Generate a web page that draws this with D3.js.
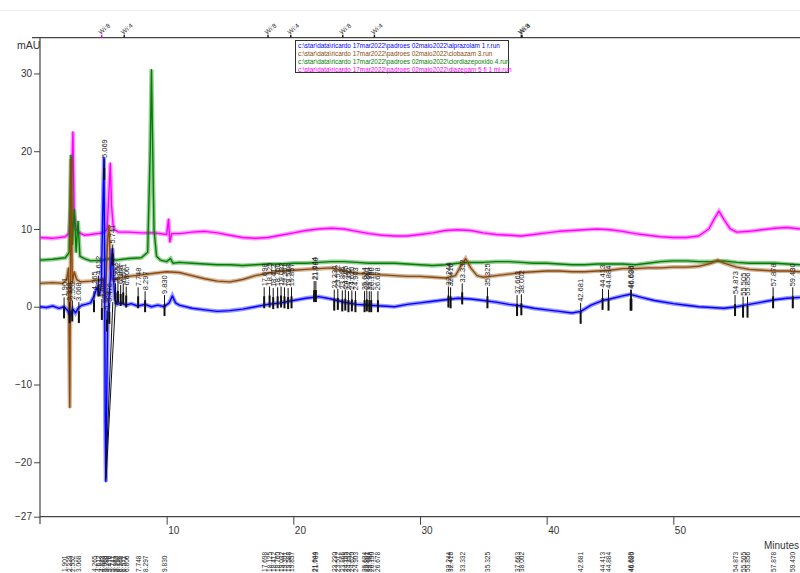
<!DOCTYPE html>
<html>
<head>
<meta charset="utf-8">
<script src="https://cdn.jsdelivr.net/npm/d3@7"></script>
<style>
  body { margin: 0; background: #fff; }
  svg { font-family: "Liberation Sans", Arial, sans-serif; }
</style>
</head>
<body>
<div id="chart"></div>
<script>
  var width = 800;
  var height = 573;

  // traces, [minutes, mAU]
  var alprazolam = [[0,0],[0.5,-0.1],[1,0.1],[1.5,-0.2],[1.9,0],[2.2,-0.5],[2.4,-1.2],[2.6,-0.3],[2.8,-0.8],[3.0,-0.2],[3.3,0.2],[3.6,0.3],[4.0,0.5],[4.3,1.5],[4.5,2.5],[4.7,1.5],[4.85,3],[4.95,12],[5.05,19.2],[5.1,5],[5.15,-15],[5.2,-22.5],[5.28,-10],[5.35,-1],[5.45,1],[5.6,5],[5.72,7.5],[5.8,4],[5.9,1],[6.1,0.3],[6.4,0.5],[6.8,0.2],[7.2,0.4],[7.7,0.1],[8.3,0.3],[8.8,0],[9.3,0.2],[9.8,0],[10.2,0.5],[10.45,1.4],[10.7,0.5],[11,0.2],[12,-0.2],[13,-0.4],[14,-0.6],[15,-0.5],[16,-0.3],[17,0],[18,0.3],[19,0.5],[20,0.8],[21,1.1],[22,1.3],[23,1.0],[24,0.6],[25,0.3],[26,0.2],[27,0.1],[28,0],[29,0.3],[30,0.5],[31,0.7],[32,0.9],[33,1.1],[34,1.0],[35,0.8],[36,0.6],[37,0.3],[38,0.1],[39,-0.2],[40,-0.4],[41,-0.6],[42,-0.8],[42.7,-0.6],[43.5,0.2],[44.4,0.8],[45,1.0],[46,1.4],[46.6,1.6],[47.5,1.2],[48.5,0.8],[50,0.4],[51,0.2],[52,0],[53,-0.1],[54,-0.2],[55,0],[56,0.3],[57,0.6],[58,0.9],[59,1.1],[60,1.2]];
  var clobazam = [[0,3],[1,3.1],[1.8,3.0],[2.1,3.5],[2.25,5],[2.35,-13],[2.45,19],[2.55,3],[2.7,4.5],[2.9,3.5],[3.2,3.2],[4,3.3],[4.8,3.5],[5.0,3.6],[5.1,0.5],[5.2,3],[5.35,9],[5.45,10.5],[5.55,5],[5.7,3.5],[6,3.6],[7,3.9],[8,4.1],[9,4.3],[10,4.5],[11,4.4],[12,4.0],[13,3.6],[14,3.3],[15,3.2],[16,3.5],[17,4.0],[18,4.3],[19,4.6],[20,4.7],[21,4.8],[22,4.9],[23,5.0],[24,4.6],[25,4.3],[26,4.2],[27,4.1],[28,4.0],[29,3.9],[30,3.9],[31,3.8],[32,3.7],[32.8,4.0],[33.3,5.5],[33.6,6.2],[34,5.0],[34.5,4.0],[35,3.8],[36,4.0],[37,4.2],[38,4.4],[39,4.5],[40,4.6],[41,4.6],[42,4.5],[43,4.5],[44,4.6],[45,4.7],[46,4.9],[47,4.9],[48,5.0],[49,5.0],[50,5.1],[51,5.1],[52,5.2],[53,5.6],[53.5,6.0],[54,5.6],[55,5.1],[56,4.8],[57,4.7],[58,4.6],[59,4.6],[60,4.5]];
  var clordiazepoxido = [[0,6],[1,6.1],[2,6.3],[2.3,7],[2.45,19.5],[2.55,8],[2.7,12.5],[2.85,7],[3.0,11],[3.15,6.5],[3.5,6.2],[4,5.9],[5,6],[5.5,6.2],[6,6.0],[7,6.2],[8,6.3],[8.5,7],[8.7,20],[8.8,30.5],[8.9,20],[9.0,10],[9.2,6.5],[9.5,6.0],[10,5.8],[10.3,6.2],[10.5,5.6],[11,5.7],[12,5.6],[13,5.5],[14,5.4],[15,5.4],[16,5.3],[17,5.4],[18,5.5],[19,5.5],[20,5.6],[21,5.6],[22,5.7],[23,5.8],[24,5.8],[25,5.7],[26,5.6],[27,5.6],[28,5.6],[29,5.5],[30,5.4],[31,5.3],[32,5.4],[33,5.6],[34,5.7],[35,5.7],[36,5.8],[37,5.8],[38,5.7],[39,5.6],[40,5.6],[41,5.5],[42,5.4],[43,5.4],[44,5.5],[45,5.5],[46,5.5],[47,5.4],[48,5.6],[49,5.8],[50,5.9],[51,5.9],[52,5.8],[53,5.8],[54,5.9],[55,5.7],[56,5.6],[57,5.6],[58,5.6],[59,5.5],[60,5.4]];
  var diazepam = [[0,8.9],[1,8.8],[2,9.0],[2.3,9.5],[2.45,13],[2.6,22.5],[2.7,12],[2.85,10],[3,9.6],[3.5,9.2],[4,9.3],[5,9.5],[5.3,10],[5.45,15],[5.55,18.5],[5.65,13],[5.8,10],[6.2,9.6],[7,9.6],[8,9.5],[9,9.5],[10,9.3],[10.15,11.3],[10.25,8.3],[10.4,9.4],[11,9.4],[12,9.6],[13,9.7],[14,9.5],[15,9.2],[16,8.9],[17,8.8],[18,8.9],[19,9.2],[20,9.5],[21,9.8],[22,10.0],[23,10.1],[24,10.0],[25,9.7],[26,9.4],[27,9.2],[28,9.1],[29,9.1],[30,9.3],[31,9.5],[32,9.8],[33,9.9],[34,9.8],[35,9.5],[36,9.3],[37,9.2],[38,9.1],[39,9.3],[40,9.5],[41,9.7],[42,9.8],[43,9.9],[44,10.0],[45,9.9],[46,9.7],[47,9.4],[48,9.2],[49,9.0],[50,8.9],[51,8.9],[52,9.1],[52.8,10],[53.3,11.5],[53.6,12.3],[54,11.2],[54.5,10],[55,9.6],[56,9.7],[57,9.9],[58,10.1],[59,10.2],[60,10.0]];

  var traceNames = ["c:\\star\\data\\ricardo 17mar2022\\padroes 02maio2022\\alprazolam 1 r.run",
                    "c:\\star\\data\\ricardo 17mar2022\\padroes 02maio2022\\clobazam 3.run",
                    "c:\\star\\data\\ricardo 17mar2022\\padroes 02maio2022\\clordiazepoxido 4.run",
                    "c:\\star\\data\\ricardo 17mar2022\\padroes 02maio2022\\diazepam 5 fl 1 ml.run"];
  var traceColors = ["#0000ff", "#8b4a0c", "#008000", "#ff00ff"];

  // integrated peaks (retention time, apex height in mAU)
  var peakTimes = [1.901,2.339,2.552,3.068,4.265,4.612,4.883,5.069,5.288,5.476,5.741,5.962,6.152,6.368,6.571,6.806,7.748,8.297,9.830,
                   17.698,18.125,18.412,18.760,19.032,19.301,19.588,19.857,21.644,21.780,23.230,23.512,23.866,24.105,24.352,24.620,24.903,
                   25.624,25.801,25.998,26.150,26.678,32.244,32.416,33.332,35.325,37.663,38.002,42.681,44.413,44.884,46.628,46.690,
                   54.873,55.505,55.856,57.878,59.430];
  var peakHeights = [1.2,0.6,0.8,0.6,2.0,4.0,1.0,19.0,-0.5,0.5,8.0,3.0,3.2,2.8,3.0,2.6,2.5,2.0,1.5,
                     2.5,2.6,2.4,2.5,2.6,2.5,2.4,2.5,3.3,3.3,2.2,2.3,2.1,2.2,2.0,2.1,2.0,
                     2.0,2.1,2.0,2.0,2.0,2.6,2.5,3.0,2.5,1.5,1.6,0.5,2.3,2.2,2.2,2.2,
                     1.5,1.3,1.3,2.5,2.5];

  // integration baselines drawn under the big negative peak
  var baselines = [[[5.18,-22.3],[5.75,0.6]], [[5.22,-22.0],[5.95,0.4]]];

  // window events on the top axis
  var eventTimes = [4.87, 6.65, 18.0, 19.8, 23.9, 26.4, 38.0, 38.05];
  var eventLabels = ["Wi:8", "Wi:4", "Wi:8", "Wi:4", "Wi:8", "Wi:4", "Wi:8", "Wi:4"];

  var yTicks = [30, 20, 10, 0, -10, -20, -27];
  var xTicks = [10, 20, 30, 40, 50];

  var x = d3.scaleLinear().domain([0, 60]).range([40, 800]);
  var y = d3.scaleLinear().domain([-27, 34.6]).range([516.7, 37.7]);

  var svg = d3.select("#chart").append("svg")
              .attr("width", width).attr("height", height);

  // faint frame line at the top
  svg.append("line").attr("x1", 0).attr("x2", width).attr("y1", 10.5).attr("y2", 10.5)
     .attr("stroke", "#eeeeee");

  var axisColor = "#444";

  // axis lines
  svg.append("line").attr("x1", 32).attr("x2", 800).attr("y1", y.range()[1]).attr("y2", y.range()[1])
     .attr("stroke", axisColor).attr("stroke-width", 1.2);
  svg.append("line").attr("x1", 40).attr("x2", 40).attr("y1", y.range()[1]).attr("y2", 524)
     .attr("stroke", axisColor).attr("stroke-width", 1.2);
  svg.append("line").attr("x1", 40).attr("x2", 800).attr("y1", y(-27)).attr("y2", y(-27))
     .attr("stroke", axisColor).attr("stroke-width", 1.2);

  var yAxis = svg.append("g").attr("transform", "translate(40,0)")
     .call(d3.axisLeft(y).tickValues(yTicks).tickSize(6).tickPadding(2).tickFormat(d3.format("d")));
  yAxis.select(".domain").remove();
  yAxis.selectAll("line").attr("stroke", axisColor);
  yAxis.selectAll("text").attr("font-size", 10).attr("fill", "#333")
       .attr("font-family", "Liberation Sans, Arial, sans-serif");

  var xAxis = svg.append("g").attr("transform", "translate(0," + y(-27) + ")")
     .call(d3.axisBottom(x).tickValues(xTicks).tickSize(8).tickPadding(2));
  xAxis.select(".domain").remove();
  xAxis.selectAll("line").attr("stroke", axisColor);
  xAxis.selectAll("text").attr("font-size", 10).attr("fill", "#333")
       .attr("text-anchor", "start").attr("dx", 1)
       .attr("font-family", "Liberation Sans, Arial, sans-serif");

  svg.append("text").attr("x", 17).attr("y", 49).attr("font-size", 10.5).attr("fill", "#333").text("mAU");
  svg.append("text").attr("x", 799).attr("y", 549).attr("text-anchor", "end")
     .attr("font-size", 10).attr("fill", "#333").text("Minutes");

  // top events
  var ev = svg.append("g");
  eventTimes.forEach(function(t, i) {
    ev.append("line").attr("x1", x(t)).attr("x2", x(t)).attr("y1", y.range()[1] - 3).attr("y2", y.range()[1])
      .attr("stroke", i == 0 ? "#ff00ff" : "#222").attr("stroke-width", 1.5);
    ev.append("text").attr("transform", "translate(" + (x(t) - 1) + "," + (y.range()[1] - 3) + ") rotate(-40)")
      .attr("font-size", 6.5).attr("fill", "#333").text(eventLabels[i]);
  });

  // traces
  var line = d3.line().x(function(d) { return x(d[0]); }).y(function(d) { return y(d[1]); });
  var traces = [alprazolam, clobazam, clordiazepoxido, diazepam];
  var drawOrder = [3, 2, 1, 0];
  drawOrder.forEach(function(i) {
    svg.append("path").datum(traces[i]).attr("d", line).attr("fill", "none")
       .attr("stroke", traceColors[i]).attr("stroke-opacity", 0.4).attr("stroke-width", 4.2);
    svg.append("path").datum(traces[i]).attr("d", line).attr("fill", "none")
       .attr("stroke", traceColors[i]).attr("stroke-width", 1.4).attr("stroke-linejoin", "round");
  });

  baselines.forEach(function(b) {
    svg.append("path").datum(b).attr("d", line).attr("fill", "none")
       .attr("stroke", "#111").attr("stroke-width", 1);
  });

  // peak markers and labels
  var pk = svg.append("g");
  peakTimes.forEach(function(t, i) {
    var px = x(t), py = y(peakHeights[i]);
    pk.append("line").attr("x1", px).attr("x2", px).attr("y1", py).attr("y2", py + 20)
      .attr("stroke", "#111").attr("stroke-width", 1);
    pk.append("line").attr("x1", px).attr("x2", px).attr("y1", py + 9).attr("y2", py + 21)
      .attr("stroke", "#111").attr("stroke-width", 2);
    pk.append("text").attr("transform", "translate(" + (px + 2.5) + "," + (py - 1) + ") rotate(-90)")
      .attr("font-size", 7.5).attr("fill", "#222").text(d3.format(".3f")(t));
    pk.append("text").attr("transform", "translate(" + (px + 2.5) + "," + 572 + ") rotate(-90)")
      .attr("font-size", 6.6).attr("fill", "#222").text(d3.format(".3f")(t));
  });

  // legend
  var lg = svg.append("g");
  lg.append("rect").attr("x", 295.5).attr("y", 40.5).attr("width", 213).attr("height", 32)
    .attr("fill", "#fff").attr("stroke", "#333");
  traceNames.forEach(function(n, i) {
    lg.append("text").attr("x", 298).attr("y", 47.5 + i * 8).attr("font-size", 6.4)
      .attr("fill", traceColors[i]).text(n);
  });
</script>
</body>
</html>
